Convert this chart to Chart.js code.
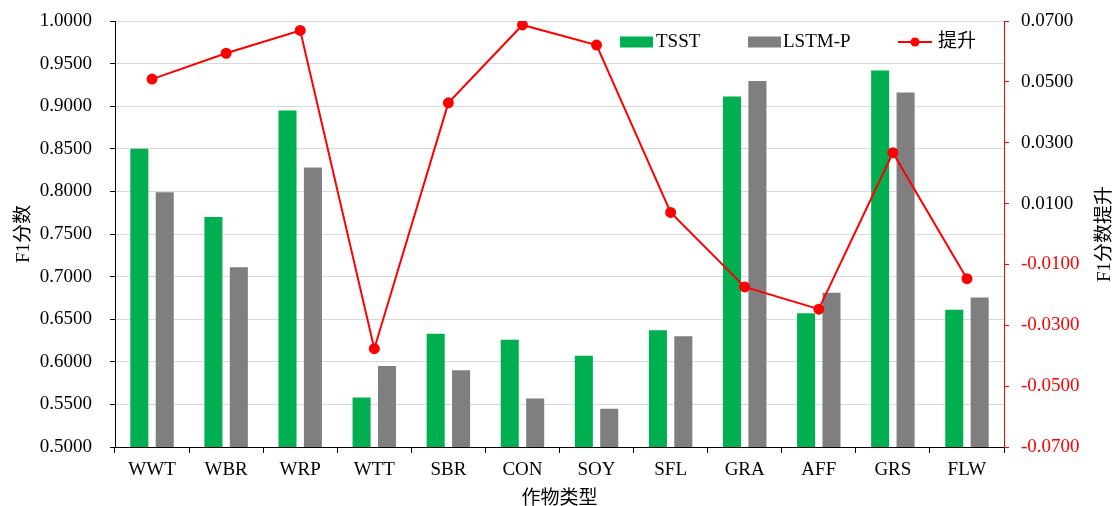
<!DOCTYPE html>
<html>
<head>
<meta charset="utf-8">
<script src="https://cdn.jsdelivr.net/npm/chart.js@4.4.0/dist/chart.umd.min.js"></script>
<style>
  body { margin: 0; background: #fff; }
  #wrap { width: 1115px; height: 506px; }
</style>
</head>
<body>
<div id="wrap"><canvas id="f1chart"></canvas></div>
<script>
// data
var categories = ['WWT', 'WBR', 'WRP', 'WTT', 'SBR', 'CON', 'SOY', 'SFL', 'GRA', 'AFF', 'GRS', 'FLW'];
var tsst  = [0.850, 0.770, 0.895, 0.558, 0.633, 0.626, 0.607, 0.637, 0.9115, 0.657, 0.942, 0.661];
var lstmp = [0.799, 0.711, 0.828, 0.595, 0.590, 0.557, 0.545, 0.630, 0.9295, 0.681, 0.916, 0.6755];
var gain  = [0.0509, 0.0594, 0.0669, -0.0377, 0.0431, 0.0687, 0.0621, 0.0071, -0.0174, -0.0247, 0.0267, -0.0147];
var leftTicks  = [0.50, 0.55, 0.60, 0.65, 0.70, 0.75, 0.80, 0.85, 0.90, 0.95, 1.00];
var rightTicks = [-0.07, -0.05, -0.03, -0.01, 0.01, 0.03, 0.05, 0.07];

var fontFamily = "'Liberation Serif', 'Times New Roman', 'Noto Sans CJK SC', serif";
var green = '#00B050';
var gray = '#7F7F7F';
var red = '#FF0000';

// legend inside the plot + right axis title (reads bottom to top)
var extras = {
  id: 'extras',
  afterDraw: function(chart) {
    var ctx = chart.ctx;
    var area = chart.chartArea;
    ctx.save();
    ctx.font = '19px ' + fontFamily;
    ctx.textBaseline = 'middle';
    ctx.textAlign = 'left';
    ctx.fillStyle = '#000';
    var y = area.top + 21;

    ctx.fillStyle = green;
    ctx.fillRect(620, y - 5.5, 33, 11);
    ctx.fillStyle = '#000';
    ctx.fillText('TSST', 656, y);

    ctx.fillStyle = gray;
    ctx.fillRect(748, y - 5.5, 33, 11);
    ctx.fillStyle = '#000';
    ctx.fillText('LSTM-P', 783, y);

    ctx.strokeStyle = red;
    ctx.lineWidth = 2;
    ctx.beginPath();
    ctx.moveTo(898, y);
    ctx.lineTo(932, y);
    ctx.stroke();
    ctx.fillStyle = red;
    ctx.beginPath();
    ctx.arc(915, y, 4.5, 0, Math.PI * 2);
    ctx.fill();
    ctx.fillStyle = '#000';
    ctx.fillText('提升', 938, y);

    ctx.translate(1105, (area.top + area.bottom) / 2);
    ctx.rotate(-Math.PI / 2);
    ctx.textAlign = 'center';
    ctx.fillText('F1分数提升', 0, 0);
    ctx.restore();
  }
};

var ctx = document.getElementById('f1chart');

var chartdata = {
  labels: categories,
  datasets: [
    {
      type: 'line',
      label: '提升',
      data: gain,
      yAxisID: 'y1',
      borderColor: red,
      backgroundColor: red,
      borderWidth: 2,
      pointRadius: 4.5,
      pointBackgroundColor: red,
      pointBorderColor: red,
      tension: 0,
      order: 0
    },
    {
      type: 'bar',
      label: 'TSST',
      data: tsst,
      yAxisID: 'y',
      backgroundColor: green,
      categoryPercentage: 0.686,
      barPercentage: 0.71,
      order: 1
    },
    {
      type: 'bar',
      label: 'LSTM-P',
      data: lstmp,
      yAxisID: 'y',
      backgroundColor: gray,
      categoryPercentage: 0.686,
      barPercentage: 0.71,
      order: 1
    }
  ]
};

var f1chart = new Chart(ctx, {
  data: chartdata,
  plugins: [extras],
  options: {
    responsive: true,
    maintainAspectRatio: false,
    animation: false,
    layout: { padding: { top: 21, left: 0, right: 0, bottom: 0 } },
    plugins: {
      legend: { display: false },
      tooltip: { enabled: false }
    },
    scales: {
      x: {
        grid: { display: true, drawOnChartArea: false, offset: true, tickLength: 6, tickColor: '#000' },
        border: { color: '#000', width: 1 },
        ticks: { color: '#000', font: { family: fontFamily, size: 19 }, padding: 6, maxRotation: 0 },
        title: { display: true, text: '作物类型', color: '#000', font: { family: fontFamily, size: 19, lineHeight: 0.7 }, padding: 0 },
        afterFit: function(scale) { scale.height = 59; scale.paddingLeft = 0; scale.paddingRight = 0; }
      },
      y: {
        position: 'left',
        min: 0.5,
        max: 1.0,
        afterBuildTicks: function(scale) { scale.ticks = leftTicks.map(function(v) { return { value: v }; }); },
        grid: { color: '#D9D9D9', lineWidth: 1, tickLength: 5, tickColor: '#000' },
        border: { color: '#000', width: 1 },
        ticks: {
          color: '#000', padding: 18,
          font: { family: fontFamily, size: 19 },
          callback: function(v) { return Number(v).toFixed(4); }
        },
        title: { display: true, text: 'F1分数', color: '#000', font: { family: fontFamily, size: 19 }, padding: { top: 13, bottom: 0 } },
        afterFit: function(scale) { scale.width = 115; scale.paddingTop = 0; scale.paddingBottom = 0; }
      },
      y1: {
        position: 'right',
        min: -0.07,
        max: 0.07,
        afterBuildTicks: function(scale) { scale.ticks = rightTicks.map(function(v) { return { value: v }; }); },
        grid: { drawOnChartArea: false, tickLength: 5, tickColor: red },
        border: { color: red, width: 1 },
        ticks: {
          padding: 12,
          font: { family: fontFamily, size: 19 },
          color: function(c) { return rightTicks[c.index] < 0 ? red : '#000'; },
          callback: function(v) { return Number(v).toFixed(4); }
        },
        afterFit: function(scale) { scale.width = 111; scale.paddingTop = 0; scale.paddingBottom = 0; }
      }
    }
  }
});
</script>
</body>
</html>
